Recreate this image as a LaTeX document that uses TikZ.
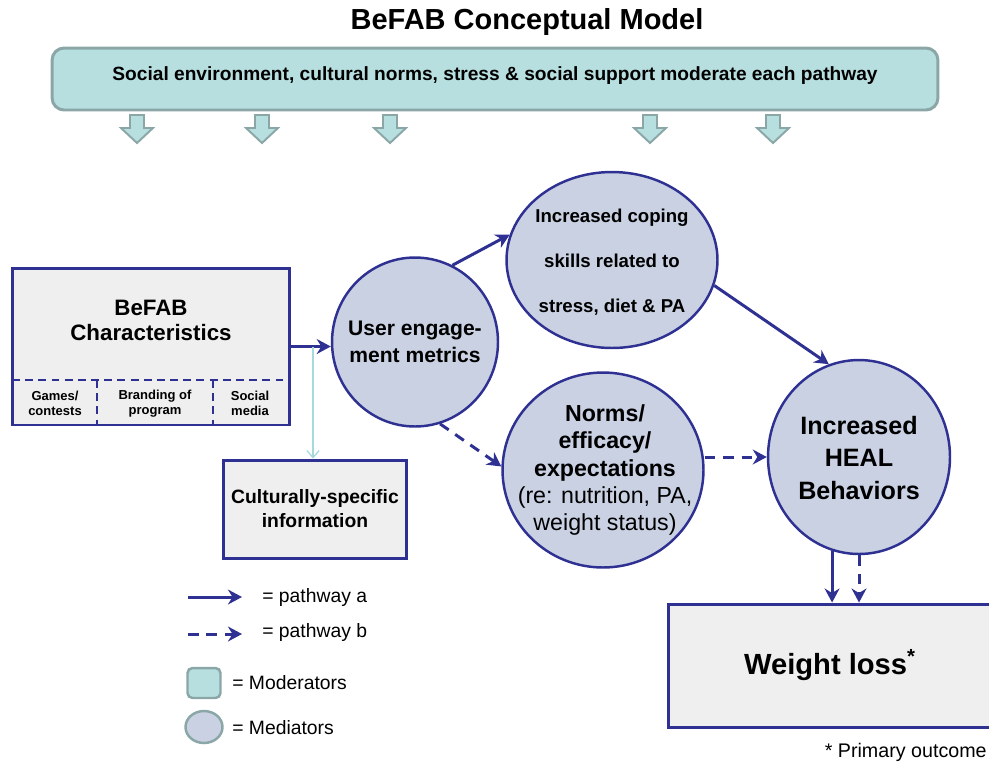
\documentclass[tikz,border=0pt]{standalone}
\usepackage{fontspec}
\setmainfont{Liberation Sans}
\usepackage{tikz}
\usetikzlibrary{shapes,arrows.meta,positioning}
\definecolor{befabblue}{RGB}{46,49,146}
\definecolor{medfill}{RGB}{201,209,227}
\definecolor{boxfill}{RGB}{239,239,239}
\definecolor{modfill}{RGB}{184,223,224}
\definecolor{moddraw}{RGB}{138,166,166}
\definecolor{culteal}{RGB}{166,217,219}
\tikzset{box/.style={rectangle,draw=befabblue,fill=boxfill,line width=1.7pt,inner sep=0pt},
  med/.style={ellipse,draw=befabblue,fill=medfill,line width=1.4pt,inner sep=0pt},
  modbox/.style={rectangle,rounded corners=0.24cm,draw=moddraw,fill=modfill,line width=1.7pt,inner sep=0pt},
  modarrow/.style={draw=moddraw,fill=modfill,line width=1.1pt},
  patha/.style={->,draw=befabblue,line width=1.7pt},
  pathb/.style={patha,dash pattern=on 6pt off 4.5pt},
  celldash/.style={draw=befabblue,line width=1.1pt,dash pattern=on 4.5pt off 3pt},
  legtext/.style={anchor=west,inner sep=0pt,font=\fontsize{11}{13}\selectfont}}

\begin{document}
\begin{tikzpicture}[x=0.02cm,y=-0.02cm,>={Stealth[length=8pt,width=8.5pt]}]
    \useasboundingbox (0,0) rectangle (989,765);

    % title and moderators
    \node[font=\bfseries\fontsize{16.5}{19}\selectfont] (title) at (527,22) {BeFAB Conceptual Model};
    \node[modbox,minimum width=17.72cm,minimum height=1.24cm] (moderators) at (495,79) {};
    \node[font=\bfseries\fontsize{10.9}{12}\selectfont] (modtext) at (495,76)
        {Social environment, cultural norms, stress \& social support moderate each pathway};
    \foreach \x in {137,262,390,650,773}
        \draw[modarrow] (\x-7,115) -- (\x+7,115) -- (\x+7,128) -- (\x+16,128) -- (\x,143) -- (\x-16,128) -- (\x-7,128) -- cycle;

    % program characteristics
    \node[box,minimum width=5.56cm,minimum height=3.14cm] (chars) at (151,346.5) {};
    \node[align=center,font=\bfseries\fontsize{12.7}{14.2}\selectfont] (charstitle) at (151,320) {BeFAB\\Characteristics};
    \draw[celldash] (12,380) -- (290,380);
    \draw[celldash] (97,380) -- (97,425);
    \draw[celldash] (213,380) -- (213,425);
    \node[align=center,font=\bfseries\fontsize{7.4}{8.5}\selectfont] (games) at (55,403.5) {Games/\\contests};
    \node[align=center,font=\bfseries\fontsize{7.4}{8.5}\selectfont] (brand) at (155,403.5) {Branding of\\program};
    \node[align=center,font=\bfseries\fontsize{7.4}{8.5}\selectfont] (social) at (250,403.5) {Social\\media};
    \node[box,minimum width=3.68cm,minimum height=1.96cm,align=center,font=\bfseries\fontsize{11}{13.7}\selectfont] (culture) at (315,509)
        {Culturally-specific\\information};

    % mediators
    \node[med,minimum width=3.32cm,minimum height=3.38cm] (engage) at (415,342) {};
    \node[align=center,font=\bfseries\fontsize{12}{15.4}\selectfont] (engagetext) at (415,342) {User engage-\\ment metrics};
    \node[med,minimum width=4.22cm,minimum height=3.52cm] (coping) at (612,260) {};
    \node[align=center,font=\bfseries\fontsize{10.6}{25.6}\selectfont] (copingtext) at (612,262) {Increased coping\\skills related to\\stress, diet \& PA};
    \node[med,minimum width=4.02cm,minimum height=3.9cm] (norms) at (603,470) {};
    \node[align=center,font=\fontsize{13.2}{15.4}\selectfont] (normstext) at (605,470)
        {\textbf{Norms/}\\\textbf{efficacy/}\\\textbf{expectations}\\(re: nutrition, PA,\\weight status)};
    \node[med,minimum width=3.64cm,minimum height=3.88cm] (heal) at (859,457) {};
    \node[align=center,font=\bfseries\fontsize{14.3}{18.5}\selectfont] (healtext) at (859,458) {Increased\\HEAL\\Behaviors};

    % outcome
    \node[box,minimum width=6.48cm,minimum height=2.46cm,font=\bfseries\fontsize{16.6}{19}\selectfont] (weight) at (830,665.5)
        {Weight loss\textsuperscript{*}};
    \node[anchor=east,inner sep=0pt,font=\fontsize{11.2}{13}\selectfont] (primary) at (987,752) {* Primary outcome};

    % pathways
    \coordinate (split) at (313,346.5);
    \draw[patha] (chars.east) -- (engage.west |- chars.east);
    \draw[->,draw=culteal,line width=0.7pt,>={Straight Barb[length=4pt,width=7pt]}] (split) -- (split |- culture.north);
    \draw[patha] (engage.64) -- (coping.166);
    \draw[pathb] (engage.-73) -- (norms.178);
    \draw[patha] (coping.-14) -- (heal.108);
    \draw[pathb] (norms.east |- heal.west) -- (heal.west);
    \draw[patha] (heal.-106) -- (heal.-106 |- weight.north);
    \draw[pathb] (heal.south) -- (weight.north -| heal.south);

    % legend
    \coordinate (keya) at (188,597);
    \coordinate (keyb) at (188,634);
    \node[legtext] (pwa) at (262,597) {= pathway a};
    \node[legtext] (pwb) at (262,632) {= pathway b};
    \draw[patha] (keya) -- ([xshift=-0.4cm]pwa.west |- keya);
    \draw[pathb] (keyb) -- ([xshift=-0.4cm]pwb.west |- keyb);
    \node[modbox,rounded corners=0.1cm,line width=1.4pt,minimum width=0.66cm,minimum height=0.6cm] (modkey) at (204,683) {};
    \node[legtext] (modlabel) at (232,683) {= Moderators};
    \node[ellipse,draw=moddraw,fill=medfill,line width=1.4pt,minimum width=0.74cm,minimum height=0.64cm] (medkey) at (204,727) {};
    \node[legtext] (medlabel) at (232,728) {= Mediators};
\end{tikzpicture}
\end{document}
